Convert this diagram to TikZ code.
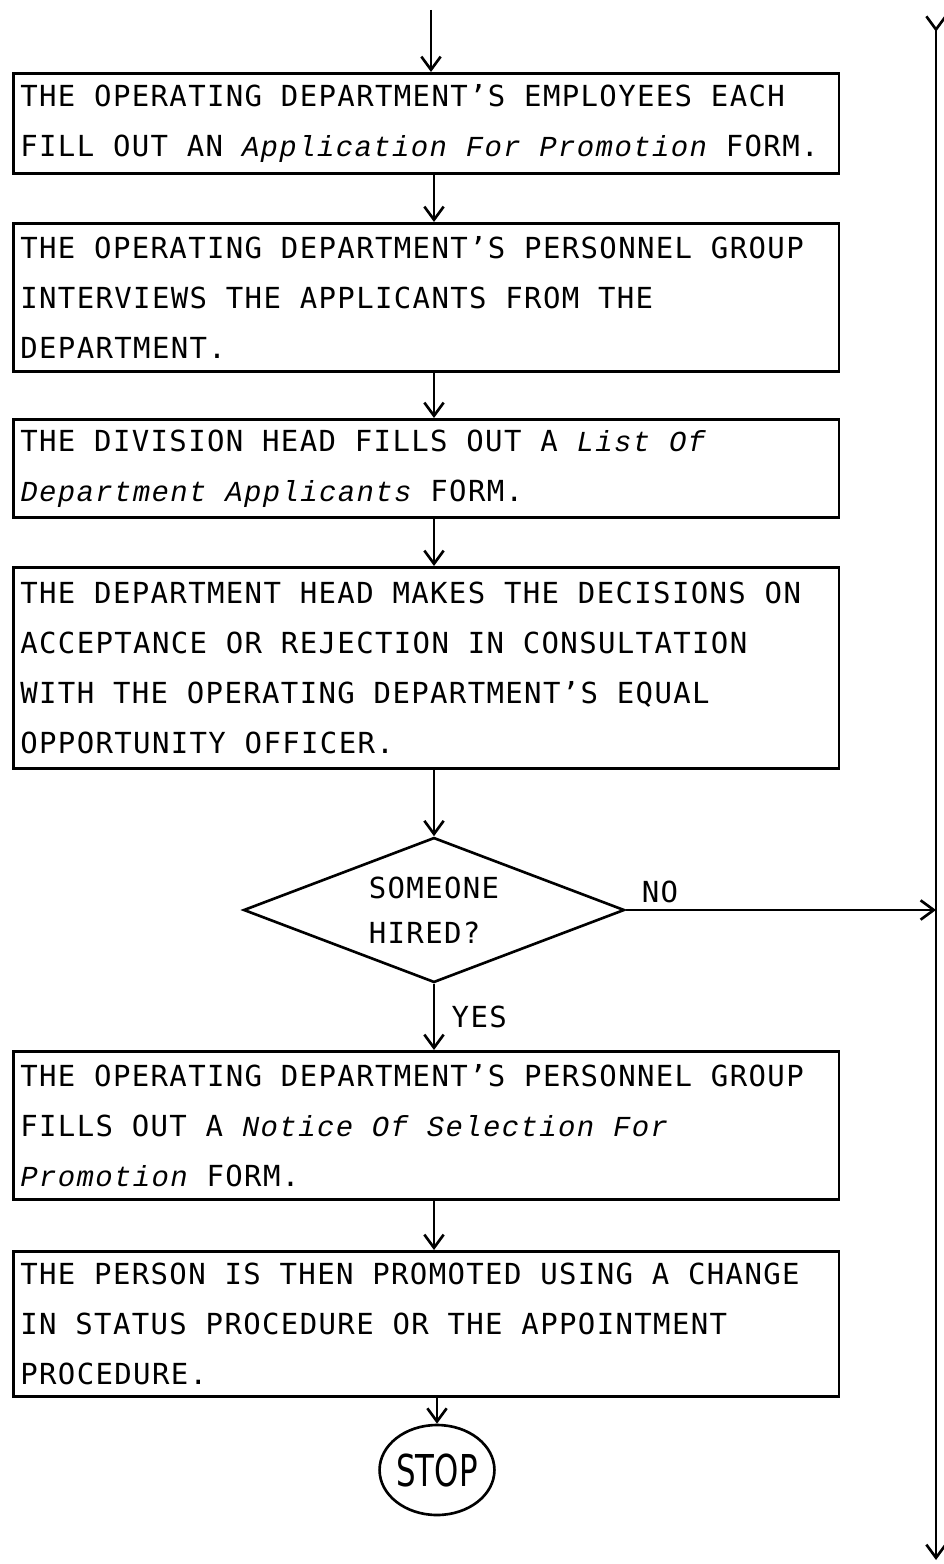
\documentclass[tikz,border=0pt]{standalone}
\usepackage{fontspec}
\setmainfont{DejaVu Sans Mono}[LetterSpace=4.7]
\newfontfamily\formfont{Liberation Mono}[LetterSpace=4.7]
\newfontfamily\stopfont{DejaVu Sans Condensed}[FakeStretch=0.78]
\usetikzlibrary{positioning}
\usetikzlibrary{arrows.meta,shapes}
% one typewriter space, as wide as a letter
\newcommand{\ws}{\kern0.649em\relax}
\newcommand{\formname}[1]{{\formfont\itshape #1}}
\tikzstyle{procbox}=[draw,rectangle,anchor=north west,line width=1.5pt,minimum width=16.52cm,text width=16.24cm,inner xsep=0.14cm,inner ysep=0pt,align=left,font=\fontsize{16.5}{28.45}\selectfont]
\tikzstyle{decision}=[draw,diamond,aspect=2.6,line width=1.5pt,minimum width=7.62cm,minimum height=2.9cm,inner sep=0pt,align=left,font=\fontsize{16.5}{25.6}\selectfont]
\tikzstyle{terminal}=[draw,ellipse,line width=1.5pt,minimum width=2.24cm,minimum height=1.8cm,inner sep=0pt,font=\stopfont\fontsize{25}{25}\selectfont]
\tikzstyle{branch}=[font=\fontsize{16.5}{20}\selectfont]

\begin{document}
\begin{tikzpicture}[x=0.02cm,y=-0.02cm,line width=1.5pt,>={Straight Barb[length=7.5pt,width=11pt]}]

  \useasboundingbox (0,0) rectangle (943,1564);

  % the steps, top to bottom
  \node[procbox,minimum height=2.0cm] (apply) at (12,72) {THE\ws OPERATING\ws DEPARTMENT'S\ws EMPLOYEES\ws EACH\\FILL\ws OUT\ws AN\ws \formname{Application\ws For\ws Promotion}\ws FORM.};
  \node[procbox,minimum height=2.96cm] (interview) at (12,222) {THE\ws OPERATING\ws DEPARTMENT'S\ws PERSONNEL\ws GROUP\\INTERVIEWS\ws THE\ws APPLICANTS\ws FROM\ws THE\\DEPARTMENT.};
  \node[procbox,minimum height=1.96cm] (list) at (12,418) {THE\ws DIVISION\ws HEAD\ws FILLS\ws OUT\ws A\ws \formname{List\ws Of}\\\formname{Department\ws Applicants}\ws FORM.};
  \node[procbox,minimum height=4.02cm] (decide) at (12,566) {THE\ws DEPARTMENT\ws HEAD\ws MAKES\ws THE\ws DECISIONS\ws ON\\ACCEPTANCE\ws OR\ws REJECTION\ws IN\ws CONSULTATION\\WITH\ws THE\ws OPERATING\ws DEPARTMENT'S\ws EQUAL\\OPPORTUNITY\ws OFFICER.};

  \node[decision] (hired) at (434,910) {SOMEONE\\HIRED?};

  \node[procbox,minimum height=2.96cm] (notice) at (12,1050) {THE\ws OPERATING\ws DEPARTMENT'S\ws PERSONNEL\ws GROUP\\FILLS\ws OUT\ws A\ws \formname{Notice\ws Of\ws Selection\ws For}\\\formname{Promotion}\ws FORM.};
  \node[procbox,minimum height=2.9cm] (promote) at (12,1250) {THE\ws PERSON\ws IS\ws THEN\ws PROMOTED\ws USING\ws A\ws CHANGE\\IN\ws STATUS\ws PROCEDURE\ws OR\ws THE\ws APPOINTMENT\\PROCEDURE.};

  \node[terminal] (stop) at (437,1470) {STOP};

  \coordinate (entry) at (431,10);
  \coordinate (railtop) at (936,15);
  \coordinate (railend) at (936,1560);

  % flow lines
  \draw[->] (entry) -- (apply.north -| entry);
  \foreach \source/\dest in {apply/interview, interview/list, list/decide}
    \draw[->] (\source.south -| hired) -- (\dest.north -| hired);
  \draw[->] (decide.south -| hired) -- (hired.north);
  \draw[->] (hired.south) -- node[branch,right=6pt]{YES} (notice.north -| hired);
  \draw[->] (notice.south -| hired) -- (promote.north -| hired);
  \draw[->] (promote.south -| stop) -- (stop.north);

  % the NO branch runs into the line down the right side
  \draw[{Straight Barb[length=7.5pt,width=11pt,reversed]}->] (railtop) -- (railend);
  \draw[->] (hired.east) -- node[branch,pos=0.11,above]{NO} (hired.east -| railtop);

\end{tikzpicture}
\end{document}
